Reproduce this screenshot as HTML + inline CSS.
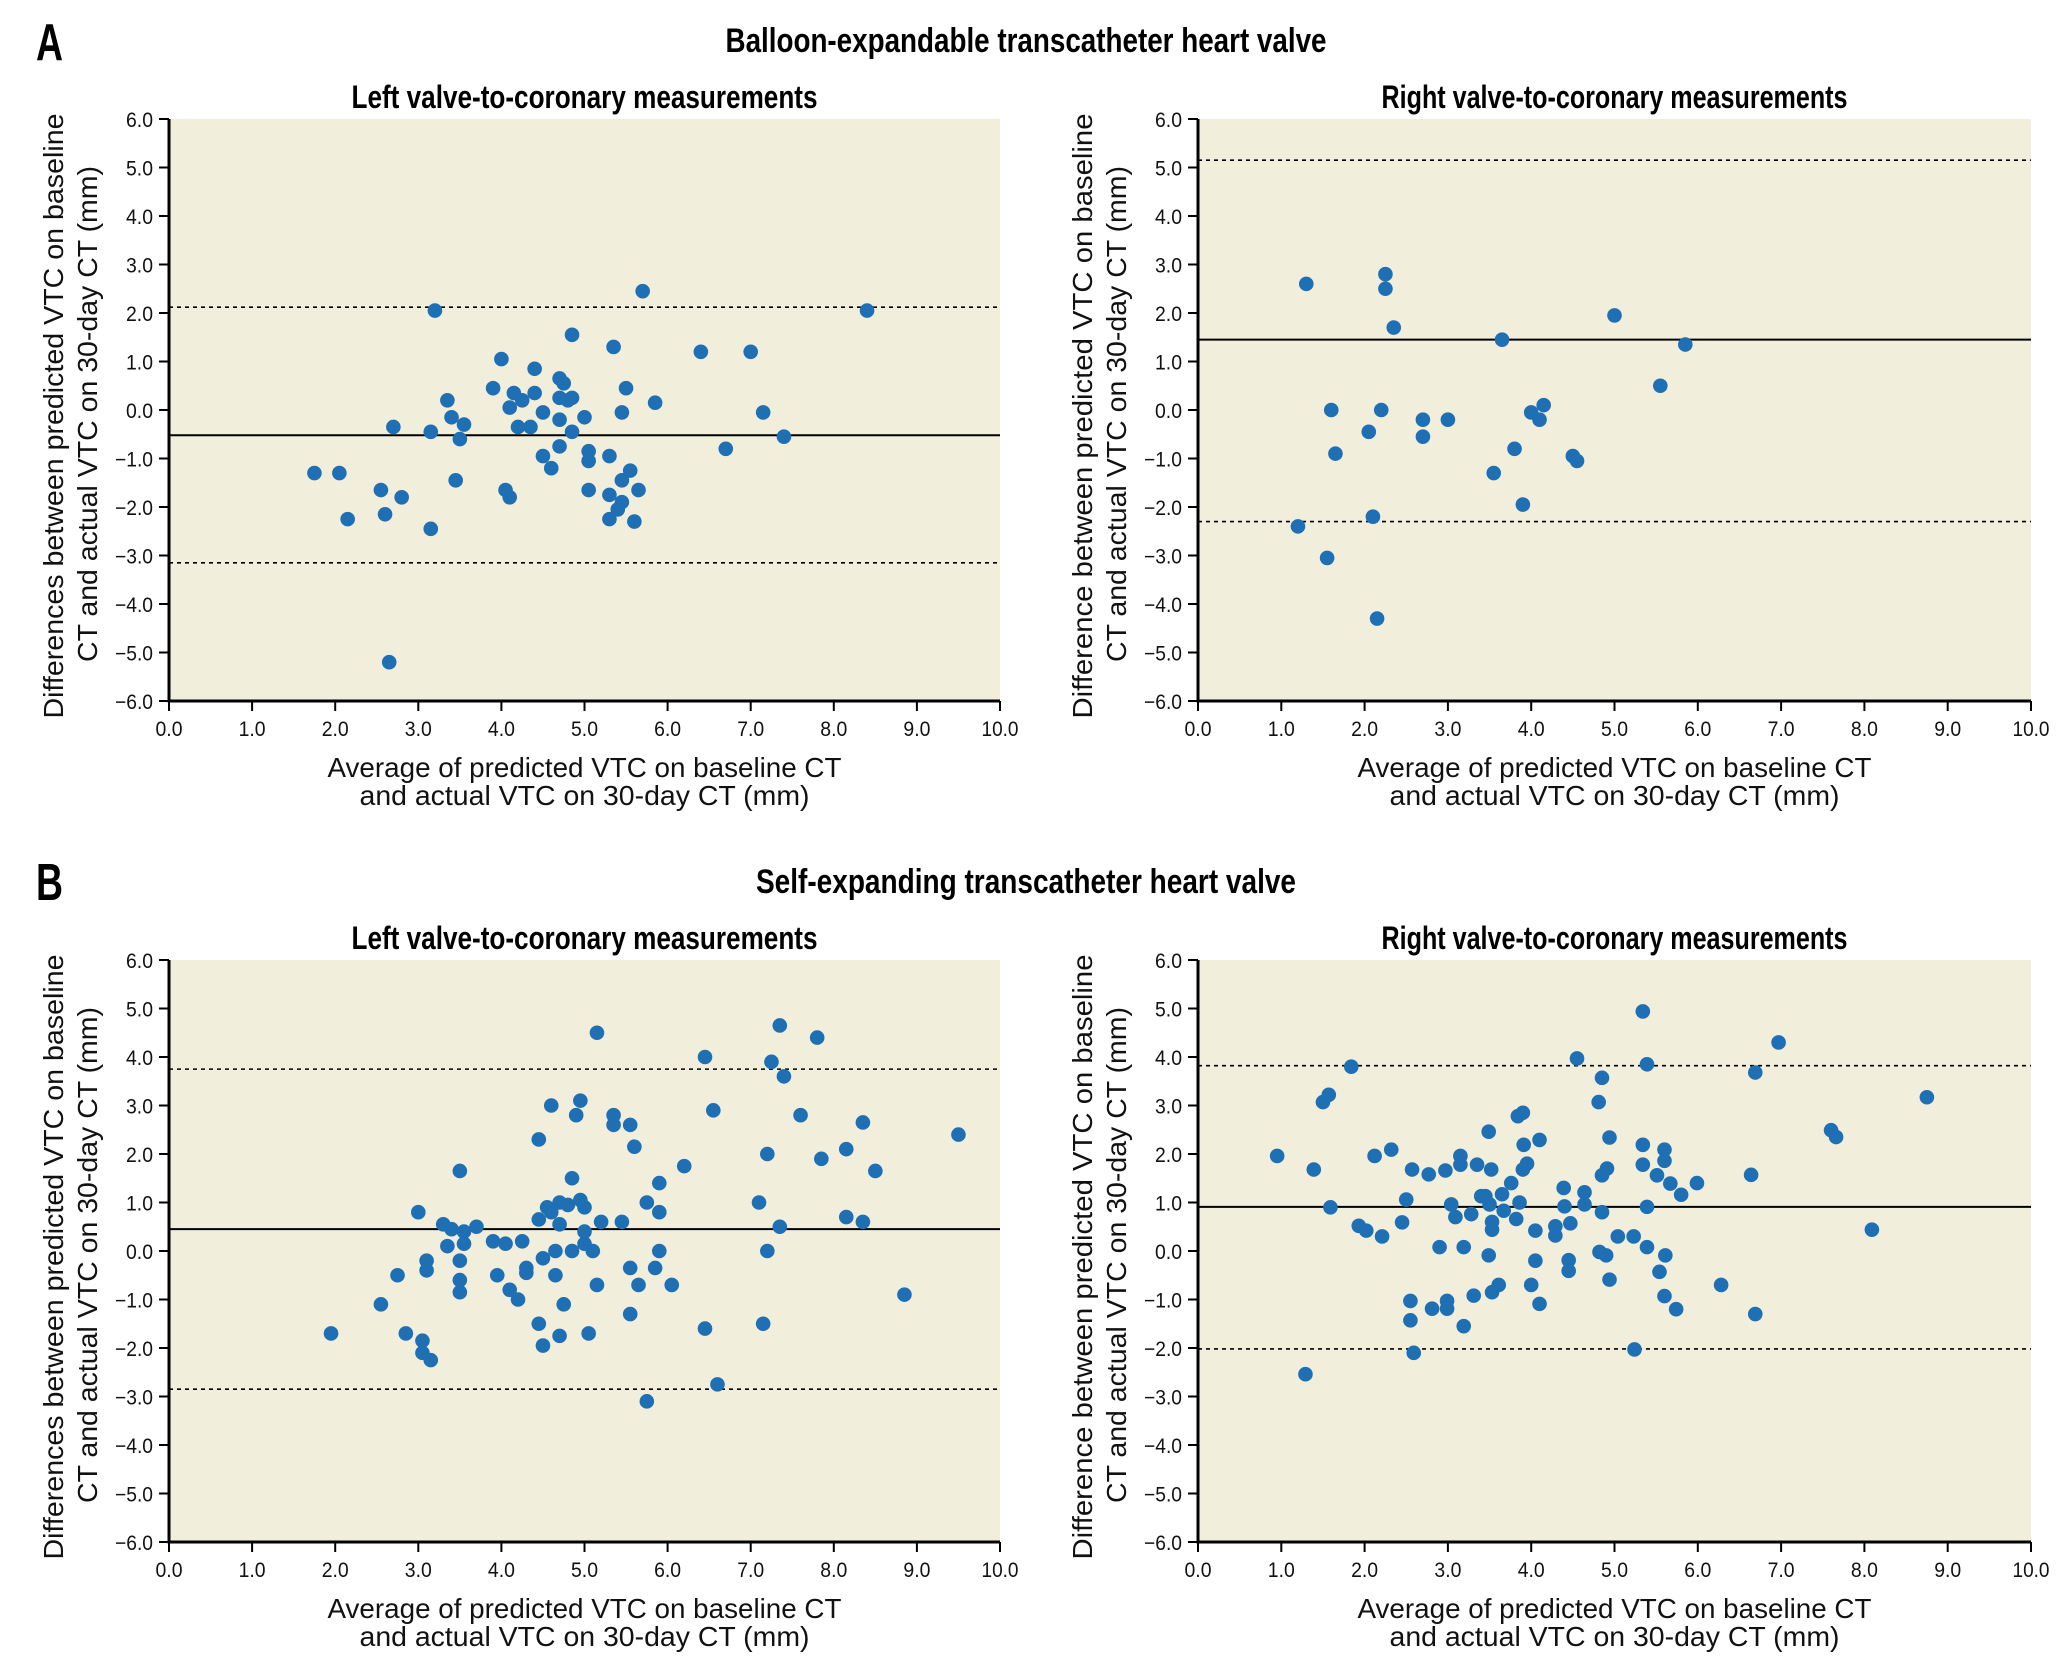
<!DOCTYPE html>
<html><head><meta charset="utf-8"><style>
html,body{margin:0;padding:0;background:#fff;}
svg{display:block}
.t{font-family:"Liberation Sans Narrow","Liberation Sans",sans-serif;font-weight:bold;fill:#000}
.k{font-family:"Liberation Sans Narrow","Liberation Sans",sans-serif;font-size:21px;fill:#111}
.a{font-family:"Liberation Sans",sans-serif;font-size:28px;fill:#111}
</style></head><body>
<svg id="s" width="2068" height="1676" xmlns="http://www.w3.org/2000/svg">
<text class="t" x="36" y="60" font-size="52" textLength="27" lengthAdjust="spacingAndGlyphs">A</text>
<text class="t" x="36" y="900" font-size="52" textLength="27" lengthAdjust="spacingAndGlyphs">B</text>
<text class="t" x="1026" y="52" font-size="34" text-anchor="middle" textLength="601" lengthAdjust="spacingAndGlyphs">Balloon-expandable transcatheter heart valve</text>
<text class="t" x="1026" y="893" font-size="34" text-anchor="middle" textLength="540" lengthAdjust="spacingAndGlyphs">Self-expanding transcatheter heart valve</text>
<g id="g"></g>
</svg>
<script>
var NS="http://www.w3.org/2000/svg",G=document.getElementById("g");
function el(n,a,txt){var e=document.createElementNS(NS,n);for(var k in a)e.setAttribute(k,a[k]);if(txt!=null)e.textContent=txt;G.appendChild(e);return e;}
var panels=[
{x0:169,x1:1000,y0:119,y1:701,title:"Left valve-to-coronary measurements",yl:"Differences between predicted VTC on baseline",m:-0.52,u:2.12,l:-3.15,
pts:[[1.75,-1.3],[2.05,-1.3],[2.15,-2.25],[2.55,-1.65],[2.6,-2.15],[2.65,-5.2],[2.7,-0.35],[2.8,-1.8],[3.15,-0.45],[3.15,-2.45],[3.2,2.05],[3.35,0.2],[3.4,-0.15],[3.45,-1.45],[3.5,-0.6],[3.55,-0.3],[3.9,0.45],[4.0,1.05],[4.05,-1.65],[4.1,-1.8],[4.1,0.05],[4.15,0.35],[4.2,-0.35],[4.25,0.2],[4.35,-0.35],[4.4,0.35],[4.4,0.85],[4.5,-0.05],[4.5,-0.95],[4.6,-1.2],[4.7,0.65],[4.7,-0.2],[4.7,-0.75],[4.7,0.25],[4.75,0.55],[4.8,0.2],[4.85,0.25],[4.85,-0.45],[4.85,1.55],[5.0,-0.15],[5.05,-0.85],[5.05,-1.05],[5.05,-1.65],[5.3,-0.95],[5.3,-1.75],[5.3,-2.25],[5.35,1.3],[5.4,-2.05],[5.45,-1.45],[5.45,-1.9],[5.45,-0.05],[5.5,0.45],[5.55,-1.25],[5.6,-2.3],[5.65,-1.65],[5.7,2.45],[5.85,0.15],[6.4,1.2],[6.7,-0.8],[7.0,1.2],[7.15,-0.05],[7.4,-0.55],[8.4,2.05]]},
{x0:1198,x1:2031,y0:119,y1:701,title:"Right valve-to-coronary measurements",yl:"Difference between predicted VTC on baseline",m:1.45,u:5.15,l:-2.3,
pts:[[1.2,-2.4],[1.3,2.6],[1.55,-3.05],[1.6,0.0],[1.65,-0.9],[2.05,-0.45],[2.1,-2.2],[2.15,-4.3],[2.2,0.0],[2.25,2.8],[2.25,2.5],[2.35,1.7],[2.7,-0.2],[2.7,-0.55],[3.0,-0.2],[3.55,-1.3],[3.65,1.45],[3.8,-0.8],[3.9,-1.95],[4.0,-0.05],[4.1,-0.2],[4.15,0.1],[4.5,-0.95],[4.55,-1.05],[5.0,1.95],[5.55,0.5],[5.85,1.35]]},
{x0:169,x1:1000,y0:960,y1:1542,title:"Left valve-to-coronary measurements",yl:"Differences between predicted VTC on baseline",m:0.45,u:3.75,l:-2.85,
pts:[[1.95,-1.7],[2.55,-1.1],[2.75,-0.5],[2.85,-1.7],[3.0,0.8],[3.05,-1.85],[3.05,-2.1],[3.1,-0.2],[3.1,-0.4],[3.15,-2.25],[3.3,0.55],[3.35,0.1],[3.4,0.45],[3.5,1.65],[3.5,-0.2],[3.5,-0.6],[3.5,-0.85],[3.55,0.4],[3.55,0.15],[3.7,0.5],[3.9,0.2],[3.95,-0.5],[4.05,0.15],[4.1,-0.8],[4.2,-1.0],[4.25,0.2],[4.3,-0.35],[4.3,-0.45],[4.45,0.65],[4.45,2.3],[4.45,-1.5],[4.5,-0.15],[4.5,-1.95],[4.55,0.9],[4.6,0.8],[4.6,3.0],[4.65,-0.5],[4.65,0.0],[4.7,-1.75],[4.7,1.0],[4.7,0.55],[4.75,-1.1],[4.8,0.95],[4.85,0.0],[4.85,1.5],[4.9,2.8],[4.95,1.05],[4.95,3.1],[5.0,0.9],[5.0,0.4],[5.0,0.15],[5.05,-1.7],[5.1,0.0],[5.15,-0.7],[5.15,4.5],[5.2,0.6],[5.35,2.8],[5.35,2.6],[5.45,0.6],[5.55,2.6],[5.55,-0.35],[5.55,-1.3],[5.6,2.15],[5.65,-0.7],[5.75,-3.1],[5.75,1.0],[5.85,-0.35],[5.9,0.8],[5.9,1.4],[5.9,0.0],[6.05,-0.7],[6.2,1.75],[6.45,4.0],[6.45,-1.6],[6.55,2.9],[6.6,-2.75],[7.1,1.0],[7.15,-1.5],[7.2,2.0],[7.2,0.0],[7.25,3.9],[7.35,4.65],[7.35,0.5],[7.4,3.6],[7.6,2.8],[7.8,4.4],[7.85,1.9],[8.15,2.1],[8.15,0.7],[8.35,2.65],[8.35,0.6],[8.5,1.65],[8.85,-0.9],[9.5,2.4]]},
{x0:1198,x1:2031,y0:960,y1:1542,title:"Right valve-to-coronary measurements",yl:"Difference between predicted VTC on baseline",m:0.91,u:3.82,l:-2.02,
pts:[[0.95,1.96],[1.29,-2.54],[1.39,1.68],[1.5,3.07],[1.57,3.22],[1.59,0.9],[1.84,3.8],[1.93,0.52],[2.02,0.42],[2.12,1.96],[2.21,0.3],[2.32,2.09],[2.45,0.59],[2.5,1.06],[2.55,-1.43],[2.55,-1.03],[2.57,1.68],[2.59,-2.1],[2.77,1.58],[2.81,-1.19],[2.9,0.08],[2.97,1.66],[2.99,-1.19],[2.99,-1.03],[3.04,0.96],[3.09,0.7],[3.15,1.78],[3.15,1.96],[3.19,0.08],[3.19,-1.55],[3.28,0.76],[3.31,-0.92],[3.35,1.78],[3.4,1.13],[3.45,1.13],[3.49,2.46],[3.5,0.96],[3.49,-0.09],[3.52,1.68],[3.53,0.6],[3.53,0.44],[3.53,-0.85],[3.61,-0.7],[3.65,1.17],[3.67,0.83],[3.76,1.4],[3.82,0.66],[3.84,2.78],[3.9,2.85],[3.86,1.0],[3.9,1.68],[3.95,1.8],[3.91,2.19],[4.0,-0.7],[4.05,0.42],[4.05,-0.2],[4.1,-1.09],[4.1,2.29],[4.29,0.51],[4.29,0.32],[4.39,1.3],[4.4,0.92],[4.45,-0.19],[4.45,-0.41],[4.47,0.57],[4.55,3.97],[4.64,1.21],[4.64,0.96],[4.81,3.07],[4.82,-0.02],[4.9,-0.09],[4.85,3.57],[4.85,1.56],[4.85,0.8],[4.91,1.7],[4.94,2.34],[4.94,-0.59],[5.04,0.3],[5.23,0.3],[5.24,-2.03],[5.34,4.94],[5.34,2.19],[5.34,1.78],[5.39,3.85],[5.39,0.91],[5.39,0.08],[5.51,1.56],[5.54,-0.43],[5.6,2.09],[5.6,1.86],[5.6,-0.93],[5.61,-0.09],[5.67,1.39],[5.74,-1.2],[5.8,1.16],[5.99,1.4],[6.28,-0.7],[6.64,1.57],[6.69,3.68],[6.69,-1.3],[6.97,4.3],[7.6,2.49],[7.66,2.35],[8.09,0.44],[8.75,3.17]]}
];
panels.forEach(function(p){
 var sx=function(v){return p.x0+(p.x1-p.x0)*v/10},sy=function(v){return p.y1-(p.y1-p.y0)*(v+6)/12};
 var cx=(p.x0+p.x1)/2;
 el("rect",{x:p.x0,y:p.y0,width:p.x1-p.x0,height:p.y1-p.y0,fill:"#f1eedc"});
 el("line",{x1:p.x0,x2:p.x1,y1:sy(p.m),y2:sy(p.m),stroke:"#000","stroke-width":2});
 [p.u,p.l].forEach(function(v){el("line",{x1:p.x0,x2:p.x1,y1:sy(v),y2:sy(v),stroke:"#000","stroke-width":1.6,"stroke-dasharray":"4,4"});});
 p.pts.forEach(function(q){el("circle",{cx:sx(q[0]),cy:sy(q[1]),r:7.3,fill:"#1f6fb4"});});
 el("line",{x1:p.x0,x2:p.x0,y1:p.y0,y2:p.y1+1.5,stroke:"#000","stroke-width":3});
 el("line",{x1:p.x0-1.5,x2:p.x1,y1:p.y1,y2:p.y1,stroke:"#000","stroke-width":3});
 for(var i=0;i<=12;i++){var v=6-i,y=sy(v);el("line",{x1:p.x0-10,x2:p.x0,y1:y,y2:y,stroke:"#000","stroke-width":2});
  el("text",{class:"k",x:p.x0-16,y:y+8,"text-anchor":"end",textLength:(v<0?38:27),lengthAdjust:"spacingAndGlyphs"},(v<0?"\u2212":"")+Math.abs(v).toFixed(1));}
 for(var j=0;j<=10;j++){var x=sx(j);el("line",{x1:x,x2:x,y1:p.y1,y2:p.y1+10,stroke:"#000","stroke-width":2});
  el("text",{class:"k",x:x,y:p.y1+35,"text-anchor":"middle",textLength:(j==10?37:27),lengthAdjust:"spacingAndGlyphs"},j.toFixed(1));}
 el("text",{class:"t","font-size":32,x:cx,y:p.y0-11,"text-anchor":"middle",textLength:466,lengthAdjust:"spacingAndGlyphs"},p.title);
 el("text",{class:"a",x:cx,y:p.y1+76,"text-anchor":"middle",textLength:514,lengthAdjust:"spacingAndGlyphs"},"Average of predicted VTC on baseline CT");
 el("text",{class:"a",x:cx,y:p.y1+104,"text-anchor":"middle",textLength:450,lengthAdjust:"spacingAndGlyphs"},"and actual VTC on 30-day CT (mm)");
 var ox=p.x0-169,my=(p.y0+p.y1)/2+6;
 el("text",{class:"a",x:0,y:0,"text-anchor":"middle",transform:"translate("+(ox+63)+","+my+") rotate(-90)",textLength:605,lengthAdjust:"spacingAndGlyphs"},p.yl);
 el("text",{class:"a",x:0,y:0,"text-anchor":"middle",transform:"translate("+(ox+97)+","+(my-2)+") rotate(-90)",textLength:496,lengthAdjust:"spacingAndGlyphs"},"CT and actual VTC on 30-day CT (mm)");
});
</script>
</body></html>
